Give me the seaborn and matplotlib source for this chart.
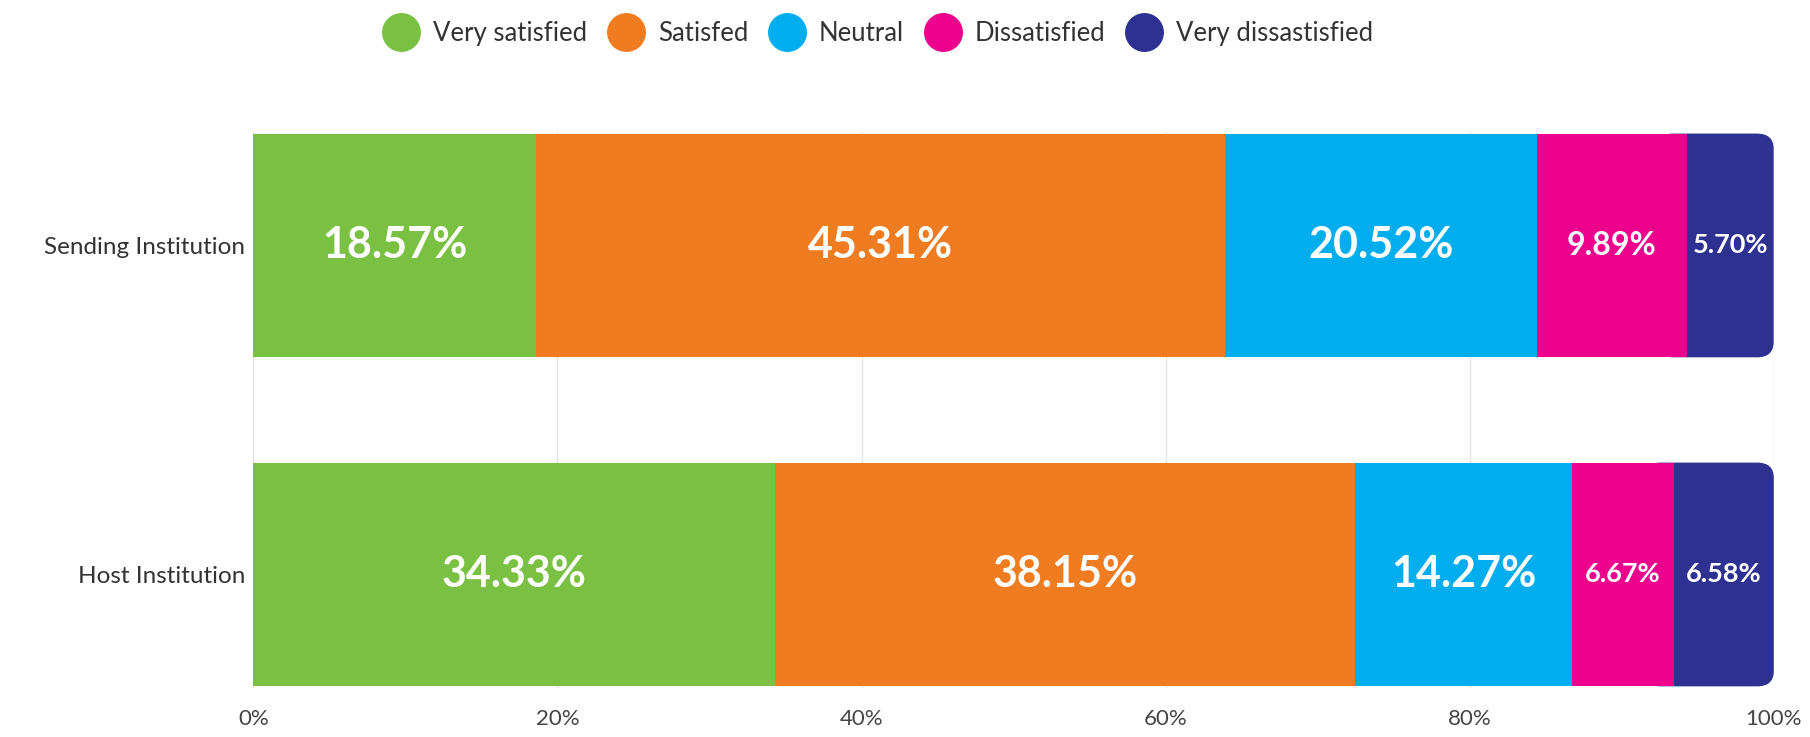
import matplotlib
matplotlib.use("Agg")
import matplotlib.pyplot as plt
import numpy as np
import pandas as pd
import seaborn as sns
from matplotlib.lines import Line2D
from matplotlib.patches import FancyBboxPatch

institutions = ["Sending Institution", "Host Institution"]
levels = ["Very satisfied", "Satisfed", "Neutral", "Dissatisfied", "Very dissastisfied"]
very_satisfied = [18.57, 34.33]
satisfied = [45.31, 38.15]
neutral = [20.52, 14.27]
dissatisfied = [9.89, 6.67]
very_dissatisfied = [5.70, 6.58]
colors = ["#7AC143", "#F07C22", "#00AEEF", "#EC008C", "#2E3192"]

sns.set_theme(style="white")
plt.rcParams["font.family"] = ["Lato", "DejaVu Sans"]

values = np.array([very_satisfied, satisfied, neutral, dissatisfied, very_dissatisfied])
cum = values.cumsum(axis=0)

fig = plt.figure(figsize=(18.1, 7.37), dpi=100)
ax = fig.add_axes([0.140, 0.0665, 0.840, 0.7545])

bar_h = 0.68
# stacked bars: draw cumulative totals from the widest down
for i in range(len(levels) - 1, -1, -1):
    df = pd.DataFrame({"inst": institutions, "val": cum[i]})
    sns.barplot(data=df, x="val", y="inst", orient="h", color=colors[i],
                width=bar_h, saturation=1, linewidth=0, ax=ax, zorder=2)

# round the right end of the last segment
for j, p in enumerate(ax.patches[:len(institutions)]):
    p.set_visible(False)
    y0 = p.get_y()
    w, h = p.get_width(), p.get_height()
    start = cum[-2][j]
    ax.add_patch(FancyBboxPatch((start - 2, y0), w - start + 2, h,
                                boxstyle="round,pad=0,rounding_size=1.1",
                                mutation_aspect=0.042, fc=colors[-1], ec="none",
                                zorder=1.5))

# value labels
for i in range(len(levels)):
    for j in range(len(institutions)):
        v = values[i][j]
        center = cum[i][j] - v / 2
        if v >= 12:
            fs = 31
        elif v >= 8:
            fs = 23
        else:
            fs = 19.5
        ax.text(center, j, f"{v:.2f}%", ha="center", va="center", color="white",
                fontsize=fs, fontweight="bold", zorder=5)

ax.set_xlim(0, 100)
ax.set_ylim(1 + 0.69 / 2, -0.69 / 2)
ax.set_xticks([0, 20, 40, 60, 80, 100])
ax.set_xticklabels(["0%", "20%", "40%", "60%", "80%", "100%"])
ax.grid(axis="x", color="#E3E3E3", linewidth=1, zorder=0)
ax.set_axisbelow(True)
ax.set_xlabel("")
ax.set_ylabel("")
for s in ax.spines.values():
    s.set_visible(False)
ax.tick_params(axis="x", labelsize=16, colors="#444444", pad=15, length=0)
ax.tick_params(axis="y", labelsize=17.5, colors="#333333", pad=6, length=0)

handles = [Line2D([0], [0], marker="o", linestyle="", markersize=27,
                  markerfacecolor=c, markeredgecolor=c) for c in colors]
fig.legend(handles, levels, loc="center", bbox_to_anchor=(0.483, 0.955), ncol=5,
           frameon=False, fontsize=18.5, handletextpad=0.25, columnspacing=0.5,
           labelcolor="#333333")

fig.savefig("out.png", dpi=100)
